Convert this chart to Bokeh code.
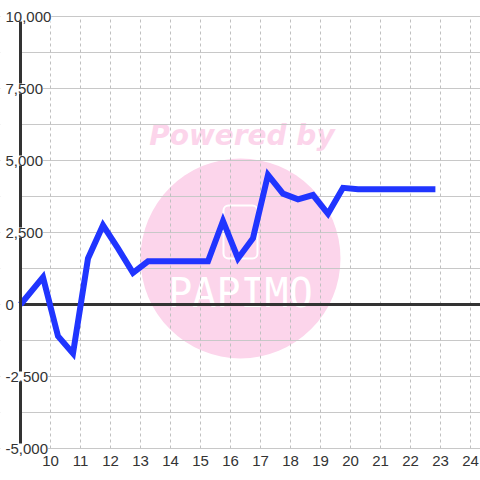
from bokeh.plotting import figure
from bokeh.models import (Range1d, FixedTicker, SingleIntervalTicker, LabelSet,
                          ColumnDataSource, BoxAnnotation, Rect)
from bokeh.core.properties import value
from bokeh.embed import file_html
from bokeh.resources import INLINE

# ---- data ----
hours = [9.0, 9.75, 10.25, 10.75, 11.25, 11.75, 12.25, 12.75, 13.25, 13.75, 14.25, 14.75,
         15.25, 15.75, 16.25, 16.75, 17.25, 17.75, 18.25, 18.75, 19.25, 19.75, 20.25,
         20.75, 21.25, 21.75, 22.25, 22.83]
balance = [0, 950, -1100, -1700, 1600, 2750, 1950, 1100, 1500, 1500, 1500, 1500,
           1500, 2900, 1600, 2300, 4500, 3850, 3650, 3800, 3150, 4050, 4000,
           4000, 4000, 4000, 4000, 4000]
x_ticks = [10, 11, 12, 13, 14, 15, 16, 17, 18, 19, 20, 21, 22, 23, 24]
y_ticks = [-5000, -2500, 0, 2500, 5000, 7500, 10000]
y_tick_labels = ["-5,000", "-2,500", "0", "2,500", "5,000", "7,500", "10,000"]
x_start, x_end = 9, 24.3333
y_start, y_end = -5000, 10000
y_step = 2500

# ---- layout (pixels) ----
W, H = 480, 480
LEFT, TOP, BOTTOM = 20, 16, 32
sx = (W - LEFT) / (x_end - x_start)          # px per hour
sy = (H - TOP - BOTTOM) / (y_end - y_start)  # px per unit
x_lo = x_start - LEFT / sx
y_hi = y_end + TOP / sy
y_lo = y_start - BOTTOM / sy

FONT = "Liberation Sans"
TXT = "#333333"
GRID = "#c8c8c8"
BLUE = "#2035ff"
PINK = "#fcd5eb"

p = figure(width=W, height=H, output_backend="svg", toolbar_location=None,
           x_range=Range1d(x_lo, x_end), y_range=Range1d(y_lo, y_hi),
           min_border_left=0, min_border_right=0, min_border_top=0, min_border_bottom=0)
p.outline_line_color = None
p.background_fill_color = "white"
p.border_fill_color = "white"

# watermark (decoration, below grid)
wm_x, wm_y = 16.333, 1600
p.scatter(x=[wm_x], y=[wm_y], size=200, marker="circle", fill_color=PINK, line_color=None, level="image")
p.text(x=[16.38], y=[5590], y_offset=-8, text=["Powered by"], text_font=value("DejaVu Sans"),
       text_font_style="bold italic", text_font_size="28px", text_color=PINK,
       text_align="center", text_baseline="alphabetic", level="image")
rect_kw = dict(fill_color=None, line_color="white", line_width=2, level="image")
if "border_radius" in Rect.properties():
    rect_kw["border_radius"] = 5
p.rect(x=[wm_x], y=[2520], width=34, height=53, width_units="screen", height_units="screen", **rect_kw)
p.text(x=[wm_x], y=[400], text=["PAPIMO"], text_font=value("DejaVu Sans Mono"),
       text_font_size="40px", text_color="white", text_align="center",
       text_baseline="middle", level="image")

# horizontal grid (every 1250), masked left of the axis
p.ygrid.ticker = SingleIntervalTicker(interval=y_step, num_minor_ticks=2)
p.ygrid.grid_line_color = GRID
p.ygrid.minor_grid_line_color = GRID
p.ygrid.grid_line_width = 1.2
p.ygrid.minor_grid_line_width = 1.2
p.add_layout(BoxAnnotation(right=x_start, fill_color="white", fill_alpha=1,
                           line_color=None, level="underlay"))
# vertical dotted grid between y_start and y_end
p.xgrid.visible = False
p.segment(x0=x_ticks, y0=[y_start] * len(x_ticks), x1=x_ticks, y1=[y_end] * len(x_ticks),
          line_color="#c0c0c0", line_width=1, line_dash="3 3")

# zero line
p.segment(x0=[x_start], y0=[0], x1=[x_end], y1=[0], line_color=TXT, line_width=3)

# series
p.line(hours, balance, line_color=BLUE, line_width=6, line_join="miter")

# axes
xa = p.xaxis[0]
xa.ticker = FixedTicker(ticks=x_ticks)
xa.fixed_location = y_start
xa.bounds = (x_start, x_end)
xa.axis_line_color = GRID
xa.axis_line_width = 1.2
xa.major_tick_line_color = None
xa.minor_tick_line_color = None
xa.major_label_standoff = 1
xa.major_label_text_font = FONT
xa.major_label_text_font_size = "15px"
xa.major_label_text_color = TXT

ya = p.yaxis[0]
ya.ticker = FixedTicker(ticks=[])
ya.fixed_location = x_start
ya.bounds = (y_start, y_end)
ya.axis_line_color = TXT
ya.axis_line_width = 3
ya.major_tick_line_color = None
ya.minor_tick_line_color = None

# y tick labels, left-aligned over the axis line with a white box (as in the reference)
ysrc = ColumnDataSource(dict(x=[x_start] * len(y_ticks), y=y_ticks, t=y_tick_labels))
p.add_layout(LabelSet(x="x", y="y", text="t", source=ysrc, x_offset=-15,
                      text_align="left", text_baseline="middle", text_font=value(FONT),
                      text_font_size="15px", text_color=TXT,
                      background_fill_color="white", level="annotation"))

open("out.html", "w").write(file_html(p, INLINE))
